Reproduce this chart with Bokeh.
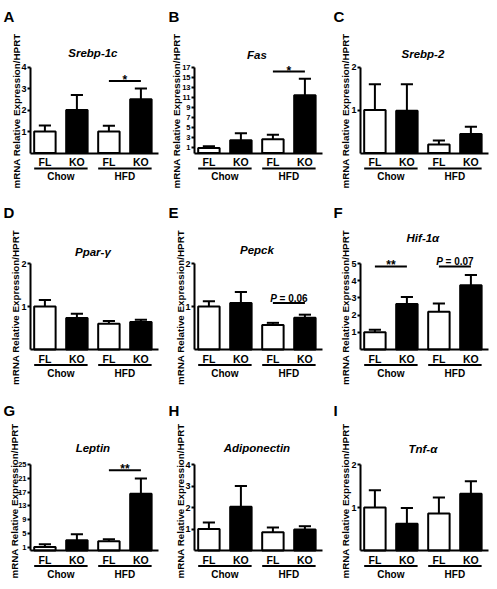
import math
from bokeh.plotting import figure
from bokeh.layouts import column, row
from bokeh.models import Range1d, FixedTicker, Label
from bokeh.embed import file_html
from bokeh.resources import INLINE

# ---------------- data ----------------
genotypes = ["FL", "KO", "FL", "KO"]
diets = ["Chow", "HFD"]
diet_of_bar = [0, 0, 1, 1]
bar_fill = ["white", "black", "white", "black"]
y_title = "mRNA Relative Expression/HPRT"

panel_letters = ["A", "B", "C", "D", "E", "F", "G", "H", "I"]
gene_names = ["Srebp-1c", "Fas", "Srebp-2", "Ppar-\u03b3", "Pepck", "Hif-1\u03b1",
              "Leptin", "Adiponectin", "Tnf-\u03b1"]

srebp1c_mean = [1.0, 2.0, 1.0, 2.5]
srebp1c_sem = [0.28, 0.7, 0.27, 0.5]
fas_mean = [1.0, 2.5, 2.7, 11.4]
fas_sem = [0.35, 1.4, 0.9, 3.3]
srebp2_mean = [1.0, 0.98, 0.2, 0.44]
srebp2_sem = [0.6, 0.62, 0.09, 0.17]
ppar_mean = [1.0, 0.73, 0.6, 0.64]
ppar_sem = [0.15, 0.1, 0.06, 0.05]
pepck_mean = [1.0, 1.08, 0.57, 0.74]
pepck_sem = [0.12, 0.26, 0.05, 0.07]
hif_mean = [1.0, 2.65, 2.2, 3.73]
hif_sem = [0.15, 0.4, 0.47, 0.6]
leptin_mean = [1.0, 3.0, 2.7, 16.5]
leptin_sem = [0.8, 1.7, 0.6, 4.4]
adipo_mean = [1.0, 2.04, 0.85, 0.98]
adipo_sem = [0.3, 0.96, 0.22, 0.15]
tnf_mean = [1.0, 0.62, 0.86, 1.32]
tnf_sem = [0.4, 0.37, 0.37, 0.29]

srebp1c_ticks = [1, 2, 3, 4]
fas_ticks = [1, 3, 5, 7, 9, 11, 13, 15, 17]
srebp2_ticks = [1, 2]
ppar_ticks = [1, 2]
pepck_ticks = [1, 2]
hif_ticks = [1, 2, 3, 4, 5]
leptin_ticks = [1, 5, 9, 13, 17, 21, 25]
adipo_ticks = [1, 2, 3, 4]
tnf_ticks = [1, 2]

# significance annotations
sig_panel = [0, 1, 4, 5, 5, 6]
sig_from = [2, 2, 2, 0, 2, 2]
sig_to = [3, 3, 3, 1, 3, 3]
sig_y = [3.35, 16.1, 1.08, 4.83, 4.83, 23.3]
sig_text = ["*", "*", "P = 0.06", "**", "P = 0.07", "**"]

all_means = [srebp1c_mean, fas_mean, srebp2_mean, ppar_mean, pepck_mean,
             hif_mean, leptin_mean, adipo_mean, tnf_mean]
all_sems = [srebp1c_sem, fas_sem, srebp2_sem, ppar_sem, pepck_sem,
            hif_sem, leptin_sem, adipo_sem, tnf_sem]
all_ticks = [srebp1c_ticks, fas_ticks, srebp2_ticks, ppar_ticks, pepck_ticks,
             hif_ticks, leptin_ticks, adipo_ticks, tnf_ticks]

# ---------------- layout / style ----------------
FONT = "Liberation Sans"
FRAME_H = 86           # px between 0 and top tick
FRAME_W = 128          # px of x axis
X_LO, X_HI = -0.45, 3.55
COL_START = [0, 165, 330]
COL_W = [165, 165, 159]
AXIS_X = [30, 194, 360]
LETTER_X = [3, 168, 333]
YTITLE_X = [15.5, 175.5, 345, 14.5, 179.5, 344.5, 13.5, 179.5, 345]
YTITLE_UP = [-1, -1, 6.5]      # px the y title is moved up from the axis centre
ROW_START = [0, 196, 393]
ROW_H = [196, 197, 188]
TOP_Y = [66.5, 263, 464]
LETTER_Y = [15.5, 212, 410]
TITLE_OFF = [13.7, 12.4, 12.7, 11.3, 13.3, 25.6, 16.7, 16.7, 16.0]
BAR_W = 0.67
CAP_HALF = 0.19
LW = 2


def txt(p, x, y, text, size, style="bold", align="center", baseline="middle",
        x_offset=0, y_offset=0, angle=0):
    p.add_layout(Label(x=x, y=y, text=text, x_offset=x_offset, y_offset=y_offset,
                       angle=angle, text_align=align, text_baseline=baseline,
                       text_font=FONT, text_font_size=size,
                       text_font_style=style, text_color="black"))


def make_panel(k):
    r, c = divmod(k, 3)
    mean = all_means[k]
    sem = all_sems[k]
    ticks = all_ticks[k]
    top = ticks[-1]
    x = list(range(len(genotypes)))

    ppx = FRAME_W / (X_HI - X_LO)
    ppy = FRAME_H / top
    ax_px = AXIS_X[c] - COL_START[c]
    x_start = X_LO - ax_px / ppx
    x_end = x_start + COL_W[c] / ppx
    top_px = TOP_Y[r] - ROW_START[r]
    y_end = top + top_px / ppy
    y_start = y_end - ROW_H[r] / ppy

    p = figure(width=COL_W[c], height=ROW_H[r], title=None,
               x_range=Range1d(x_start, x_end), y_range=Range1d(y_start, y_end),
               output_backend="svg", toolbar_location=None,
               min_border=0, min_border_left=0, min_border_right=0,
               min_border_top=0, min_border_bottom=0)
    p.outline_line_color = None
    p.xgrid.visible = False
    p.ygrid.visible = False
    p.background_fill_color = "white"
    p.border_fill_color = "white"

    tops = [m + s for m, s in zip(mean, sem)]
    p.segment(x0=x, y0=mean, x1=x, y1=tops, line_color="black", line_width=LW)
    p.segment(x0=[xi - CAP_HALF for xi in x], y0=tops,
              x1=[xi + CAP_HALF for xi in x], y1=tops,
              line_color="black", line_width=LW)
    p.vbar(x=x, top=mean, bottom=0, width=BAR_W, fill_color=bar_fill,
           line_color="black", line_width=LW)

    # y axis (drawn at x = X_LO, from 0 to top)
    yax = p.yaxis[0]
    yax.fixed_location = X_LO
    yax.bounds = (0, top)
    yax.ticker = FixedTicker(ticks=ticks)
    yax.major_label_standoff = 1
    yax.major_label_text_font = FONT
    yax.major_label_text_font_style = "bold"
    yax.major_label_text_color = "black"
    yax.major_label_text_font_size = "7.5px" if top > 9 else "9px"
    yax.major_tick_in = 0
    yax.major_tick_out = 3
    yax.major_tick_line_width = LW
    yax.minor_tick_line_color = None
    yax.axis_line_width = LW
    # y axis title, centred on the axis
    txt(p, X_LO - (AXIS_X[c] - YTITLE_X[k]) / ppx,
        top / 2 + YTITLE_UP[r] / ppy, y_title, "9.8px", angle=math.pi / 2)

    # x axis (drawn at y = 0)
    xax = p.xaxis[0]
    xax.fixed_location = 0
    xax.bounds = (X_LO, X_HI)
    xax.ticker = FixedTicker(ticks=x)
    xax.major_label_overrides = {xi: genotypes[xi] for xi in x}
    xax.major_label_text_font = FONT
    xax.major_label_text_font_style = "bold"
    xax.major_label_text_color = "black"
    xax.major_label_text_font_size = "10.5px"
    xax.major_label_standoff = 3
    xax.major_tick_in = 0
    xax.major_tick_out = 0
    xax.minor_tick_line_color = None
    xax.axis_line_width = LW

    # group underline and label
    for g, dname in enumerate(diets):
        members = [i for i in x if diet_of_bar[i] == g]
        x0 = min(members) - BAR_W / 2
        x1 = max(members) + BAR_W / 2
        yu = -15.6 / ppy
        p.segment(x0=[x0], y0=[yu], x1=[x1], y1=[yu], line_color="black",
                  line_width=LW)
        txt(p, sum(members) / len(members), -23.5 / ppy, dname, "10px")

    # gene title
    txt(p, (X_LO + X_HI) / 2 - 0.05, top + TITLE_OFF[k] / ppy, gene_names[k],
        "11.5px", style="bold italic")
    # panel letter
    txt(p, X_LO - (AXIS_X[c] - LETTER_X[c]) / ppx,
        top + (TOP_Y[r] - LETTER_Y[r]) / ppy, panel_letters[k], "15px",
        align="left")

    # significance
    for s in range(len(sig_panel)):
        if sig_panel[s] != k:
            continue
        a, b, yv, t = sig_from[s], sig_to[s], sig_y[s], sig_text[s]
        p.segment(x0=[a], y0=[yv], x1=[b], y1=[yv], line_color="black", line_width=LW)
        xc = (a + b) / 2
        if t.startswith("P"):
            txt(p, xc, yv, "P", "10px", style="bold italic", align="right",
                baseline="alphabetic", x_offset=-12.1, y_offset=4.5)
            txt(p, xc, yv, t[1:].strip(), "10px", align="left",
                baseline="alphabetic", x_offset=-9.3, y_offset=4.5)
        else:
            txt(p, xc, yv, t, "12px", baseline="alphabetic", y_offset=1)
    return p


panels = [make_panel(k) for k in range(9)]
layout = column(row(*panels[0:3]), row(*panels[3:6]), row(*panels[6:9]))

open("out.html", "w").write(file_html(layout, INLINE))
